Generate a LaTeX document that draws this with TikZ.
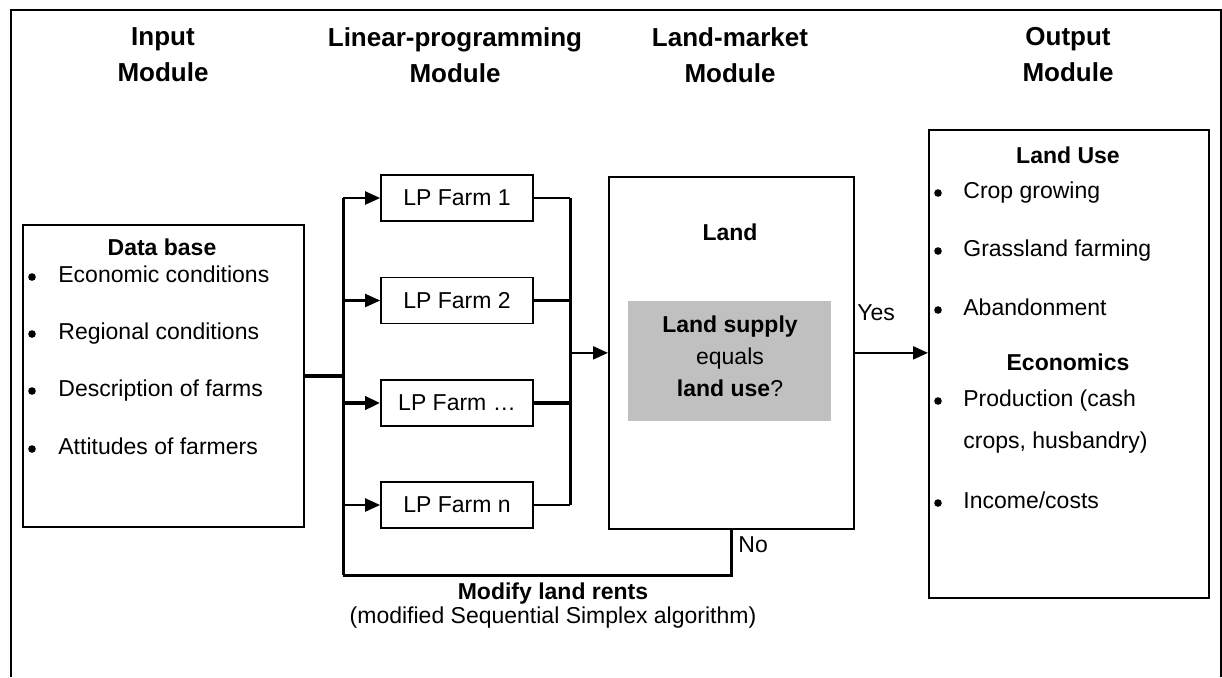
\documentclass[tikz,border=0pt]{standalone}
\usepackage{fontspec}
\setmainfont{Liberation Sans}
\usetikzlibrary{arrows.meta,positioning}
\definecolor{Shade}{RGB}{192,192,192}

\tikzset{
  box/.style={draw, line width=0.85pt, inner sep=0pt},
  txt/.style={font=\fontsize{11.5}{13}\selectfont, inner sep=0pt},
  btxt/.style={font=\fontsize{11.5}{13}\selectfont\bfseries, inner sep=0pt},
  head/.style={font=\fontsize{13}{18}\selectfont\bfseries, align=center, inner sep=0pt},
  dot/.style={circle, fill, inner sep=0pt, minimum size=3.8pt},
  thin/.style={line width=1.1pt},
  thick line/.style={line width=2pt},
  bus/.style={line width=1.5pt},
  arr/.style={-{Triangle[length=7.5pt,width=6.5pt]}},
}

\begin{document}
\begin{tikzpicture}[x=0.5pt,y=-0.5pt]
    %%Background
    \useasboundingbox (0,0) rectangle (1222,677);
    \draw[line width=1pt] (11,677) -- (11,10) -- (1221,10) -- (1221,677);

    %% Headers
    \node[head] (hin)  at (163,55)  {Input\\Module};
    \node[head] (hlp)  at (455,55)  {Linear-programming\\Module};
    \node[head] (hlm)  at (730,55)  {Land-market\\Module};
    \node[head] (hout) at (1068,55) {Output\\Module};

    %% Input module
    \node[box, anchor=north west, minimum width=140.5pt, minimum height=151pt] (db) at (22,224) {};
    \node[btxt] (dbt) at (162,247) {Data base};
    \foreach \y/\t [count=\i] in {277/Economic conditions, 334/Regional conditions,
        391/Description of farms, 449/Attitudes of farmers}
      {
      \node[txt, anchor=mid west] (dbi\i) at (58,\y) {\t};
      \node[dot] (dbb\i) at (32,\y) {};
      }

    %% LP module
    \foreach \y/\t [count=\i] in {198/1, 300.5/2, 403/\dots, 505/n}
      \node[box, minimum width=76pt, minimum height=23pt, txt] (lp\i) at (457,\y) {LP Farm \t};
    \coordinate (ltop) at (343,198);
    \coordinate (lbot) at (343,575);
    \coordinate (rtop) at (570,198);
    \coordinate (rbot) at (570,505);

    %% Land-market module
    \node[box, anchor=north west, minimum width=122.5pt, minimum height=176pt] (land) at (608,176) {};
    \node[btxt] (landt) at (730,232) {Land};
    \node[fill=Shade, anchor=north west, minimum width=101.5pt, minimum height=60pt, inner sep=0pt] (test) at (628,301) {};
    \node[txt, align=center, font=\fontsize{11.5}{16}\selectfont] (testt) at (730,356)
      {\textbf{Land supply}\\equals\\\textbf{land use}?};
    \node[txt, anchor=west] (yes) at (857,313) {Yes};
    \node[txt, anchor=west] (no) at (738,545) {No};

    %% Output module
    \node[box, anchor=north west, minimum width=140pt, minimum height=234pt] (out) at (928,129) {};
    \node[btxt] (outt1) at (1068,155) {Land Use};
    \node[btxt] (outt2) at (1068,362) {Economics};
    \foreach \y/\t [count=\i] in {193/Crop growing, 251/Grassland farming, 310/Abandonment,
        401/Production (cash, 503/{Income/costs}}
      {
      \node[txt, anchor=mid west] (outi\i) at (963,\y) {\t};
      \node[dot] (outb\i) at (938,\y) {};
      }
    \node[txt, anchor=mid west] (outi6) at (963,443) {crops, husbandry)};

    %% Connectors
    \draw[thick line] (db.east) -- (db.east -| ltop);
    \draw[bus] (ltop) -- (lbot);
    \draw[bus] (rtop) -- (rbot);
    \foreach \i in {1,2,4}
      {
      \draw[thin, arr] (lp\i.west -| ltop) -- (lp\i.west);
      \draw[thin] (lp\i.east) -- (lp\i.east -| rtop);
      }
    \draw[thick line, arr] (lp3.west -| ltop) -- (lp3.west);
    \draw[thick line] (lp3.east) -- (lp3.east -| rtop);
    \draw[thin, arr] (land.west -| rtop) -- (land.west);
    \draw[thin, arr] (land.east) -- (land.east -| out.west);
    \draw[bus] (land.south) -- (land.south |- lbot) -- (lbot);

    %% Feedback label
    \node[btxt] (mod) at (553,594) {Modify land rents};
    \node[txt] (modsub) at (553,618) {(modified Sequential Simplex algorithm)};
\end{tikzpicture}
\end{document}
